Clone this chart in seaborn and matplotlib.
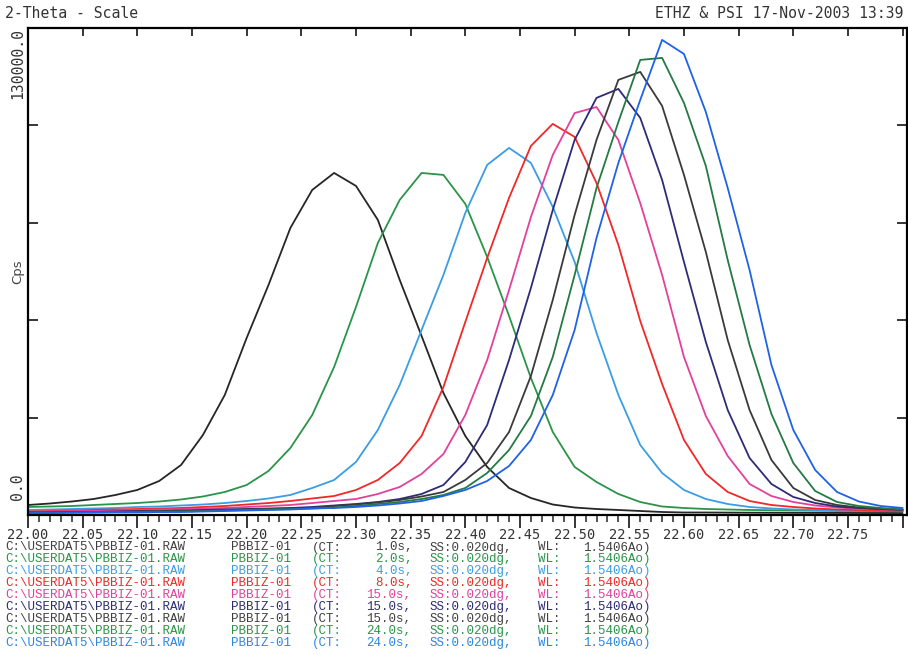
import re
import numpy as np
import pandas as pd
import matplotlib
matplotlib.use("Agg")
import matplotlib.pyplot as plt
import seaborn as sns
from matplotlib.ticker import MultipleLocator, FixedLocator, FixedFormatter

# ---- data (2-theta scan, step 0.020 deg) ----
two_theta = np.round(np.arange(22.00, 22.8001, 0.02), 2)

ct_times = [1.0, 2.0, 4.0, 8.0, 15.0, 15.0, 15.0, 24.0, 24.0]

scan1_ct1 = [2670, 3070, 3600, 4270, 5340, 6680, 9080, 13350, 21360, 32040, 47260, 61410, 76630, 86780,
             91310, 87840, 78770, 62750, 47790, 32570, 21090, 12820, 7210, 4540, 2800, 2000, 1600, 1340,
             1070, 800, 670, 670, 640, 620, 600, 580, 560, 550, 540, 530, 520]
scan2_ct2 = [2140, 2270, 2400, 2670, 2940, 3200, 3600, 4140, 4940, 6140, 8010, 11750, 17890, 26700,
             39520, 55540, 72620, 84110, 91310, 90780, 83040, 68890, 53130, 36580, 22160, 12820, 8810,
             5610, 3470, 2270, 1870, 1600, 1470, 1340, 1270, 1200, 1150, 1100, 1070, 1040, 1000]
scan3_ct4 = [1340, 1470, 1600, 1740, 1870, 2140, 2270, 2540, 2800, 3200, 3740, 4410, 5340, 7210, 9350,
             14150, 22700, 34710, 49400, 64080, 80630, 93450, 97990, 93990, 82240, 67560, 48600, 32040,
             18690, 11210, 6680, 4270, 2940, 2140, 1740, 1470, 1340, 1270, 1200, 1150, 1100]
scan4_ct8 = [930, 1070, 1200, 1340, 1470, 1600, 1740, 1870, 2140, 2400, 2800, 3200, 3740, 4410, 5070,
             6680, 9350, 13880, 21090, 34180, 51530, 68620, 84640, 98520, 104400, 100930, 88640, 72090,
             51800, 34980, 20030, 10950, 6140, 3740, 2670, 2140, 1740, 1470, 1340, 1200, 1070]
scan5_ct15 = [800, 930, 1070, 1070, 1200, 1340, 1470, 1600, 1740, 1870, 2140, 2400, 2670, 3200, 3740,
              4270, 5610, 7480, 10950, 16280, 26700, 41390, 60050, 79540, 96120, 107300, 108900, 100090,
              83270, 64080, 42170, 26420, 15750, 8280, 5070, 3470, 2540, 2000, 1600, 1470, 1340]
scan6_ct15 = [670, 670, 800, 800, 930, 1070, 1070, 1200, 1340, 1470, 1600, 1740, 1870, 2140, 2540, 2940,
              3470, 4270, 5610, 8010, 14150, 24030, 41390, 60610, 81430, 100130, 111340, 113740, 106000,
              89450, 67550, 46190, 28040, 15220, 8280, 4810, 3200, 2270, 1870, 1600, 1470]
scan7_ct15 = [670, 670, 800, 800, 800, 930, 930, 1070, 1200, 1340, 1470, 1600, 1740, 1870, 2400, 2800,
              3340, 4010, 4940, 6140, 9350, 13880, 22160, 37110, 57410, 80100, 100130, 116150, 118280,
              109200, 90780, 70220, 46730, 28040, 14690, 7210, 4010, 2670, 2000, 1600, 1340]
scan8_ct24 = [600, 670, 670, 800, 800, 800, 930, 930, 1070, 1200, 1340, 1470, 1600, 1740, 2000, 2400,
              2940, 3470, 4270, 5340, 7210, 11210, 17350, 26430, 42190, 64080, 87280, 104930, 121480,
              122020, 110000, 93180, 68080, 45390, 26970, 13880, 6410, 3470, 2400, 1870, 1470]
scan9_ct24 = [530, 530, 600, 600, 670, 670, 800, 800, 930, 1070, 1200, 1340, 1470, 1740, 1870, 2140,
              2540, 3070, 3740, 5070, 6680, 9080, 13080, 20030, 32040, 49400, 73960, 93990, 110800,
              126830, 123070, 107600, 87310, 65420, 40050, 22700, 12020, 6140, 3600, 2400, 1870]

scans = [scan1_ct1, scan2_ct2, scan3_ct4, scan4_ct8, scan5_ct15, scan6_ct15, scan7_ct15, scan8_ct24, scan9_ct24]

curve_colors = ["#262626", "#2a9448", "#3a9de4", "#f02828", "#e2409c", "#2c2c78", "#3a3a3a", "#237a44", "#1f62e6"]
text_colors = ["#404040", "#2a9448", "#3a9de4", "#f02828", "#e2409c", "#2c2c78", "#404040", "#2a9448", "#2a86e6"]

x_tick_values = list(np.round(np.arange(22.00, 22.8001, 0.05), 2))
x_tick_labels = ["%.2f" % v for v in x_tick_values[:-1]] + [""]

# ---- long-form table ----
rows = []
for i, s in enumerate(scans):
    for tt, c in zip(two_theta, s):
        rows.append({"scan": i, "two_theta": tt, "cps": c})
df = pd.DataFrame(rows)

sns.set_style("white")
plt.rcParams["font.family"] = ["DejaVu Sans Mono", "DejaVu Sans"]

W, H = 908, 655
fig = plt.figure(figsize=(W / 100, H / 100), dpi=100)
ax = fig.add_axes([28 / W, 140 / H, 879 / W, 487 / H])

sns.lineplot(data=df, x="two_theta", y="cps", hue="scan", palette=curve_colors,
             legend=False, linewidth=1.3, estimator=None, sort=False, ax=ax)

ax.set_xlim(22.0, 22.804)
ax.set_ylim(0, 130000)
ax.set_xlabel("")
ax.set_ylabel("")

for sp in ax.spines.values():
    sp.set_visible(True)
    sp.set_color("black")
    sp.set_linewidth(1.6)

ax.xaxis.set_major_locator(FixedLocator(x_tick_values))
ax.xaxis.set_major_formatter(FixedFormatter(x_tick_labels))
ax.xaxis.set_minor_locator(MultipleLocator(0.01))
ax.tick_params(axis="x", which="major", direction="out", length=9, width=1.3,
               bottom=True, top=False, labelsize=9.8, labelcolor="#333333", pad=0.5)
ax.tick_params(axis="x", which="minor", direction="out", length=5, width=1.1,
               bottom=True, top=False)

sec = ax.secondary_xaxis("top")
sec.xaxis.set_major_locator(FixedLocator(x_tick_values))
sec.tick_params(axis="x", which="major", direction="in", length=6, width=1.3, labeltop=False)
sec.spines["top"].set_visible(False)

ax.yaxis.set_major_locator(MultipleLocator(26000))
ax.tick_params(axis="y", which="major", direction="in", length=7, width=1.3,
               left=True, right=True, labelleft=False, labelright=False)

mono = "DejaVu Sans Mono"
ax.text(-0.0115, 1.0, "130000.0", transform=ax.transAxes, rotation=90, ha="center", va="top",
        fontsize=10.6, color="#333333", family=mono)
ax.text(-0.0115, 0.03, "0.0", transform=ax.transAxes, rotation=90, ha="center", va="bottom",
        fontsize=10.6, color="#333333", family=mono)
ax.text(-0.0115, 0.50, "Cps", transform=ax.transAxes, rotation=90, ha="center", va="center",
        fontsize=9.5, color="#444444", family="DejaVu Sans")

fig.text(5 / W, 1 - 14 / H, "2-Theta - Scale", ha="left", va="center", fontsize=10.6,
         color="#333333", family=mono)
fig.text(655 / W, 1 - 14 / H, "ETHZ & PSI 17-Nov-2003 13:39", ha="left", va="center", fontsize=10.6,
         color="#333333", family=mono)

# legend lines: each word placed at its character column of the original printout
char_w = 9.03
for i, (ct, col) in enumerate(zip(ct_times, text_colors)):
    line = "C:\\USERDAT5\\PBBIZ-01.RAW PBBIZ-01 (CT:%6.1fs, SS:0.020dg, WL:  1.5406Ao)" % ct
    y = 1 - (547.5 + i * 11.95) / H
    for m in re.finditer(r"\S+", line):
        fig.text((5 + m.start() * char_w) / W, y, m.group(), ha="left", va="center",
                 fontsize=9.0, color=col, family="Liberation Mono")

fig.savefig("out.png", dpi=100)
